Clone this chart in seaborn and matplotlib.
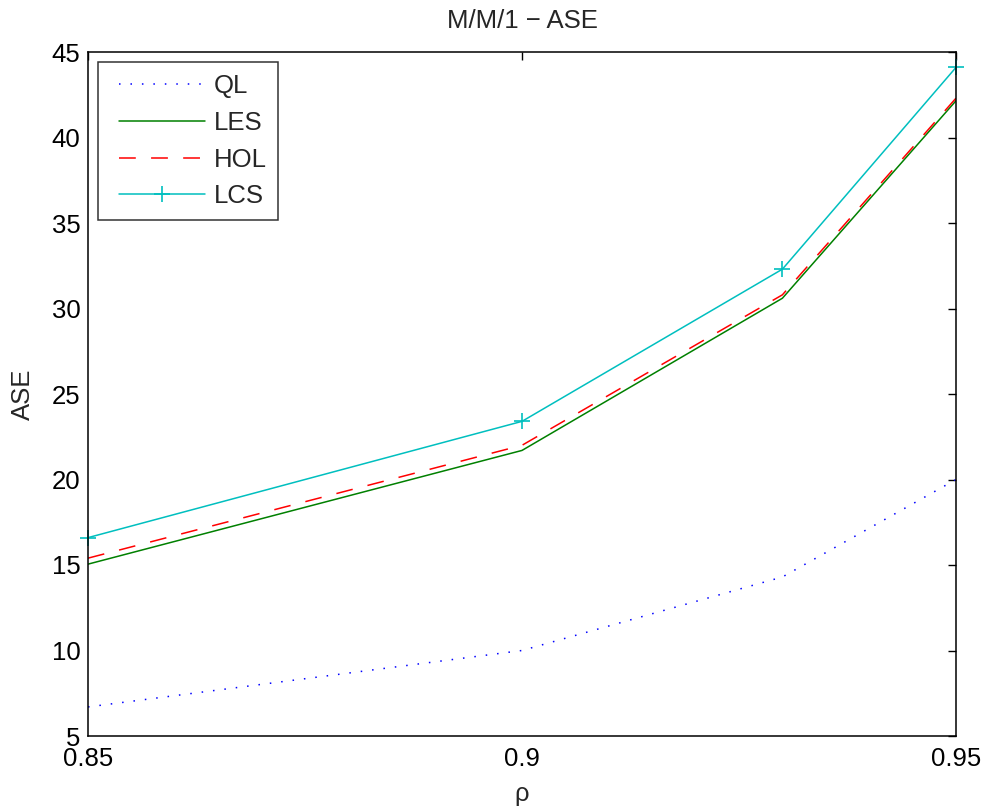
import matplotlib
matplotlib.use("Agg")
import matplotlib.pyplot as plt
from matplotlib.lines import Line2D
from matplotlib.legend_handler import HandlerLine2D
import seaborn as sns

rho = [0.85, 0.90, 0.93, 0.95]
ql = [6.7, 10.0, 14.3, 20.0]
les = [15.05, 21.7, 30.6, 42.15]
hol = [15.4, 22.0, 30.8, 42.3]
lcs = [16.6, 23.4, 32.3, 44.1]

sns.set_theme(style="white")
plt.rcParams['font.family'] = ['Liberation Sans', 'DejaVu Sans']

fig = plt.figure(figsize=(9.88, 8.11), dpi=100)
ax = fig.add_axes([88/988, 1-736/811, (956-88)/988, (736-52)/811])

lw = 1.1
sns.lineplot(x=rho, y=ql, ax=ax, color='#0000ff', linestyle=(0, (1, 6.5)), lw=lw, label='QL')
sns.lineplot(x=rho, y=les, ax=ax, color='#008000', linestyle='-', lw=lw, label='LES')
sns.lineplot(x=rho, y=hol, ax=ax, color='#ff0000', linestyle=(0, (11, 10)), lw=lw, label='HOL')
sns.lineplot(x=rho, y=lcs, ax=ax, color='#00bfbf', linestyle='-', lw=lw, marker='+',
             markersize=12, markeredgewidth=1.2, markeredgecolor='#00bfbf',
             markerfacecolor='#00bfbf', label='LCS', clip_on=False)

ax.set_xlim(0.85, 0.95)
ax.set_ylim(5, 45)
ax.set_xticks([0.85, 0.9, 0.95])
ax.set_xticklabels(['0.85', '0.9', '0.95'])
ax.set_yticks(range(5, 46, 5))
ax.tick_params(direction='in', length=6, width=1, top=True, right=True, labelsize=18.5,
               colors='black')
ax.tick_params(axis='y', pad=5.5)
ax.tick_params(axis='x', pad=8)
for s in ax.spines.values():
    s.set_color('black')
    s.set_linewidth(1.1)
    s.set_visible(True)

ax.set_title('M/M/1 − ASE', fontsize=18.5, pad=17)
ax.set_xlabel('ρ', fontsize=18.5, labelpad=8)
ax.set_ylabel('ASE', fontsize=18.5, labelpad=12)

leg = ax.legend(loc='upper left', fontsize=18.5, frameon=True, fancybox=False,
                edgecolor='black', handlelength=3.7, borderaxespad=0.4,
                labelspacing=0.5, handletextpad=0.35, borderpad=0.45,
                handler_map={Line2D: HandlerLine2D(xpad=0.35)})
leg.get_frame().set_linewidth(1.1)

fig.savefig('out.png', dpi=100, facecolor='white')
